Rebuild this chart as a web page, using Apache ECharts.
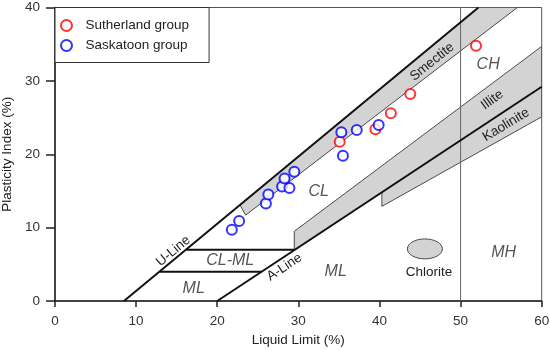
<!DOCTYPE html>
<html>
<head>
<meta charset="utf-8">
<script src="https://cdn.jsdelivr.net/npm/echarts@6/dist/echarts.min.js"></script>
<style>
html,body{margin:0;padding:0;background:#fff;}
#main{width:550px;height:350px;}
</style>
</head>
<body>
<div id="main"></div>
<script>
// ---- data (liquid limit %, plasticity index %) ----
const sutherland = [[35.1,21.7],[39.5,23.4],[41.4,25.6],[43.8,28.2],[51.9,34.8]];
const saskatoon = [[21.8,9.7],[22.7,10.9],[26.0,13.3],[26.3,14.5],[28.0,15.6],[28.9,15.4],
                   [28.3,16.7],[29.5,17.6],[35.3,23.0],[35.5,19.8],[37.2,23.3],[39.9,24.0]];

// chart lines (data units)
const uLine = [[8.5,0],[52.2,40]];
const aLine = [[20,0],[60,29.2]];
const pi7Line = [[16.2,7],[29.5,7]];
const pi4Line = [[12.9,4],[25.5,4]];
const ll50Line = [[50,0],[50,40]];

// mineral zones (data units)
const smectite = [[22.8,13.1],[23.5,11.7],[57.0,40],[52.2,40]];
const illite = [[29.5,6.9],[29.5,9.5],[60,34.7],[60,29.2]];
const kaolinite = [[40.3,14.8],[40.3,12.9],[60,25.1],[60,29.2]];
const chlorite = [45.6,7.1,2.16,1.36]; // centre x, centre y, radius x, radius y

// annotation texts: [text, x, y, rotation deg, kind]
const notes = [
  ['Smectite',46.5,32.6,39,'n'],
  ['CH',53.4,32.2,0,'i'],
  ['Illite',53.9,27.4,36,'n'],
  ['Kaolinite',55.6,24.0,31,'n'],
  ['CL',32.5,14.9,0,'i'],
  ['U-Line',14.6,6.8,40,'n'],
  ['CL-ML',21.6,5.46,0,'i'],
  ['ML',17.1,1.73,0,'i'],
  ['A-Line',28.3,4.6,33.5,'n'],
  ['ML',34.6,4.0,0,'i'],
  ['Chlorite',46.1,3.9,0,'n'],
  ['MH',55.3,6.6,0,'i']
];

const FONT = "'Liberation Sans', Arial, sans-serif";
const chart = echarts.init(document.getElementById('main'), null, {renderer:'canvas'});

function polySeries(pts, z){
  return {
    type:'custom', z:z, silent:true, clip:true,
    data:[[pts[0][0],pts[0][1]]],
    renderItem:function(params, api){
      return {type:'polygon', shape:{points:pts.map(p=>api.coord(p))},
        style:{fill:'#d3d3d3', stroke:'#4a4a4a', lineWidth:1}};
    }
  };
}
function lineSeries(pts, color, width, z){
  return {type:'line', data:pts, symbol:'none', silent:true, z:z,
    lineStyle:{color:color, width:width}, animation:false};
}

const option = {
  animation:false,
  grid:{left:55, right:8.3, top:7.5, bottom:49, show:true, borderColor:'#555', borderWidth:1,
        containLabel:false, outerBoundsMode:'none'},
  legend:{
    data:['Sutherland group','Saskatoon group'],
    orient:'vertical', left:55, top:7.5,
    borderColor:'#333', borderWidth:1, backgroundColor:'#fff',
    padding:[11,20,10,5], itemWidth:28, itemHeight:11, itemGap:6,
    textStyle:{fontSize:13.5, color:'#222', fontFamily:FONT}
  },
  xAxis:{
    type:'value', min:0, max:60, interval:10,
    name:'Liquid Limit (%)', nameLocation:'middle', nameGap:30,
    nameTextStyle:{fontSize:13.5, color:'#222', fontFamily:FONT},
    axisLine:{show:true, lineStyle:{color:'#222', width:1.5}},
    axisTick:{show:true, length:6, lineStyle:{color:'#222', width:1.5}},
    axisLabel:{fontSize:13.5, color:'#333', margin:13, fontFamily:FONT},
    splitLine:{show:false}
  },
  yAxis:{
    type:'value', min:0, max:40, interval:10,
    name:'Plasticity Index (%)', nameLocation:'middle', nameGap:33,
    nameTextStyle:{fontSize:13.5, color:'#222', fontFamily:FONT},
    axisLine:{show:true, lineStyle:{color:'#222', width:1.5}},
    axisTick:{show:true, length:9, lineStyle:{color:'#222', width:1.5}},
    axisLabel:{fontSize:13.5, color:'#333', margin:15, fontFamily:FONT},
    splitLine:{show:false}
  },
  series:[
    polySeries(smectite, 1),
    polySeries(illite, 1),
    polySeries(kaolinite, 1),
    {
      type:'custom', z:1, silent:true,
      data:[[chlorite[0],chlorite[1]]],
      renderItem:function(params, api){
        const c = api.coord([chlorite[0],chlorite[1]]);
        const s = api.size([chlorite[2],chlorite[3]]);
        return {type:'ellipse', shape:{cx:c[0], cy:c[1], rx:s[0], ry:s[1]},
          style:{fill:'#d3d3d3', stroke:'#4a4a4a', lineWidth:1}};
      }
    },
    lineSeries(ll50Line, '#666', 1, 2),
    lineSeries(uLine, '#111', 2, 3),
    lineSeries(aLine, '#111', 2, 3),
    lineSeries(pi7Line, '#111', 2, 3),
    lineSeries(pi4Line, '#111', 2, 3),
    {
      type:'custom', z:4, silent:true,
      data:notes.map(n=>[n[1],n[2]]),
      renderItem:function(params, api){
        const n = notes[params.dataIndex];
        const c = api.coord([n[1],n[2]]);
        const italic = n[4]==='i';
        return {type:'text', x:c[0], y:c[1], rotation:n[3]*Math.PI/180,
          style:{text:n[0], fill: italic ? '#555' : '#222',
            font:(italic ? 'italic 16px ' : '13.5px ') + FONT,
            align:'center', verticalAlign:'middle'}};
      }
    },
    {
      name:'Sutherland group', type:'scatter', z:5, data:sutherland,
      symbol:'emptyCircle', symbolSize:10,
      itemStyle:{color:'#ff0000', borderColor:'#ff0000', borderWidth:1.6}
    },
    {
      name:'Saskatoon group', type:'scatter', z:5, data:saskatoon,
      symbol:'emptyCircle', symbolSize:10,
      itemStyle:{color:'#0000ff', borderColor:'#0000ff', borderWidth:1.6}
    }
  ]
};
chart.setOption(option);
</script>
</body>
</html>
